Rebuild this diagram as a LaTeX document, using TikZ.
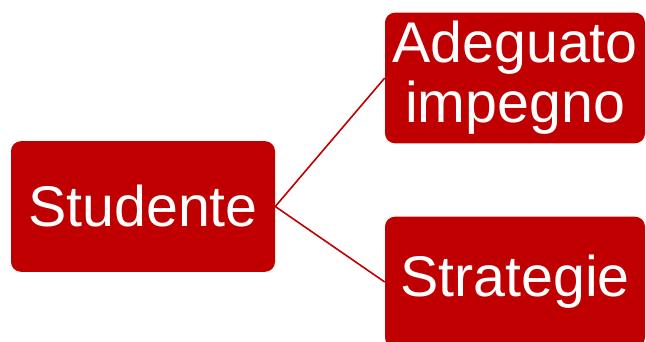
\documentclass[tikz,border=0pt]{standalone}
\usepackage{fontspec}
\setmainfont{Liberation Sans}
\definecolor{boxred}{RGB}{192,0,0}
\tikzset{
  redbox/.style={draw=none,fill=boxred,rounded corners=7.5pt,text=white,
    font=\fontsize{43}{45}\selectfont,align=center,inner sep=0pt,
    minimum height=98pt},
  link/.style={draw=boxred,line width=1.2pt}
}
\begin{document}
\begin{tikzpicture}[x=0.75pt,y=-0.75pt]
    \useasboundingbox(0,0)rectangle(646,342);
    \clip(0,0)rectangle(646,342);
    \node[redbox,minimum width=198pt](studente)at(143,206.5){Studente};
    \node[redbox,minimum width=195pt](impegno)at(515,78){Adeguato\\impegno};
    \node[redbox,minimum width=195pt](strategie)at(515,282){Strategie};
    \draw[link](studente.east)--(impegno.west);
    \draw[link](studente.east)--(strategie.west);
\end{tikzpicture}
\end{document}
